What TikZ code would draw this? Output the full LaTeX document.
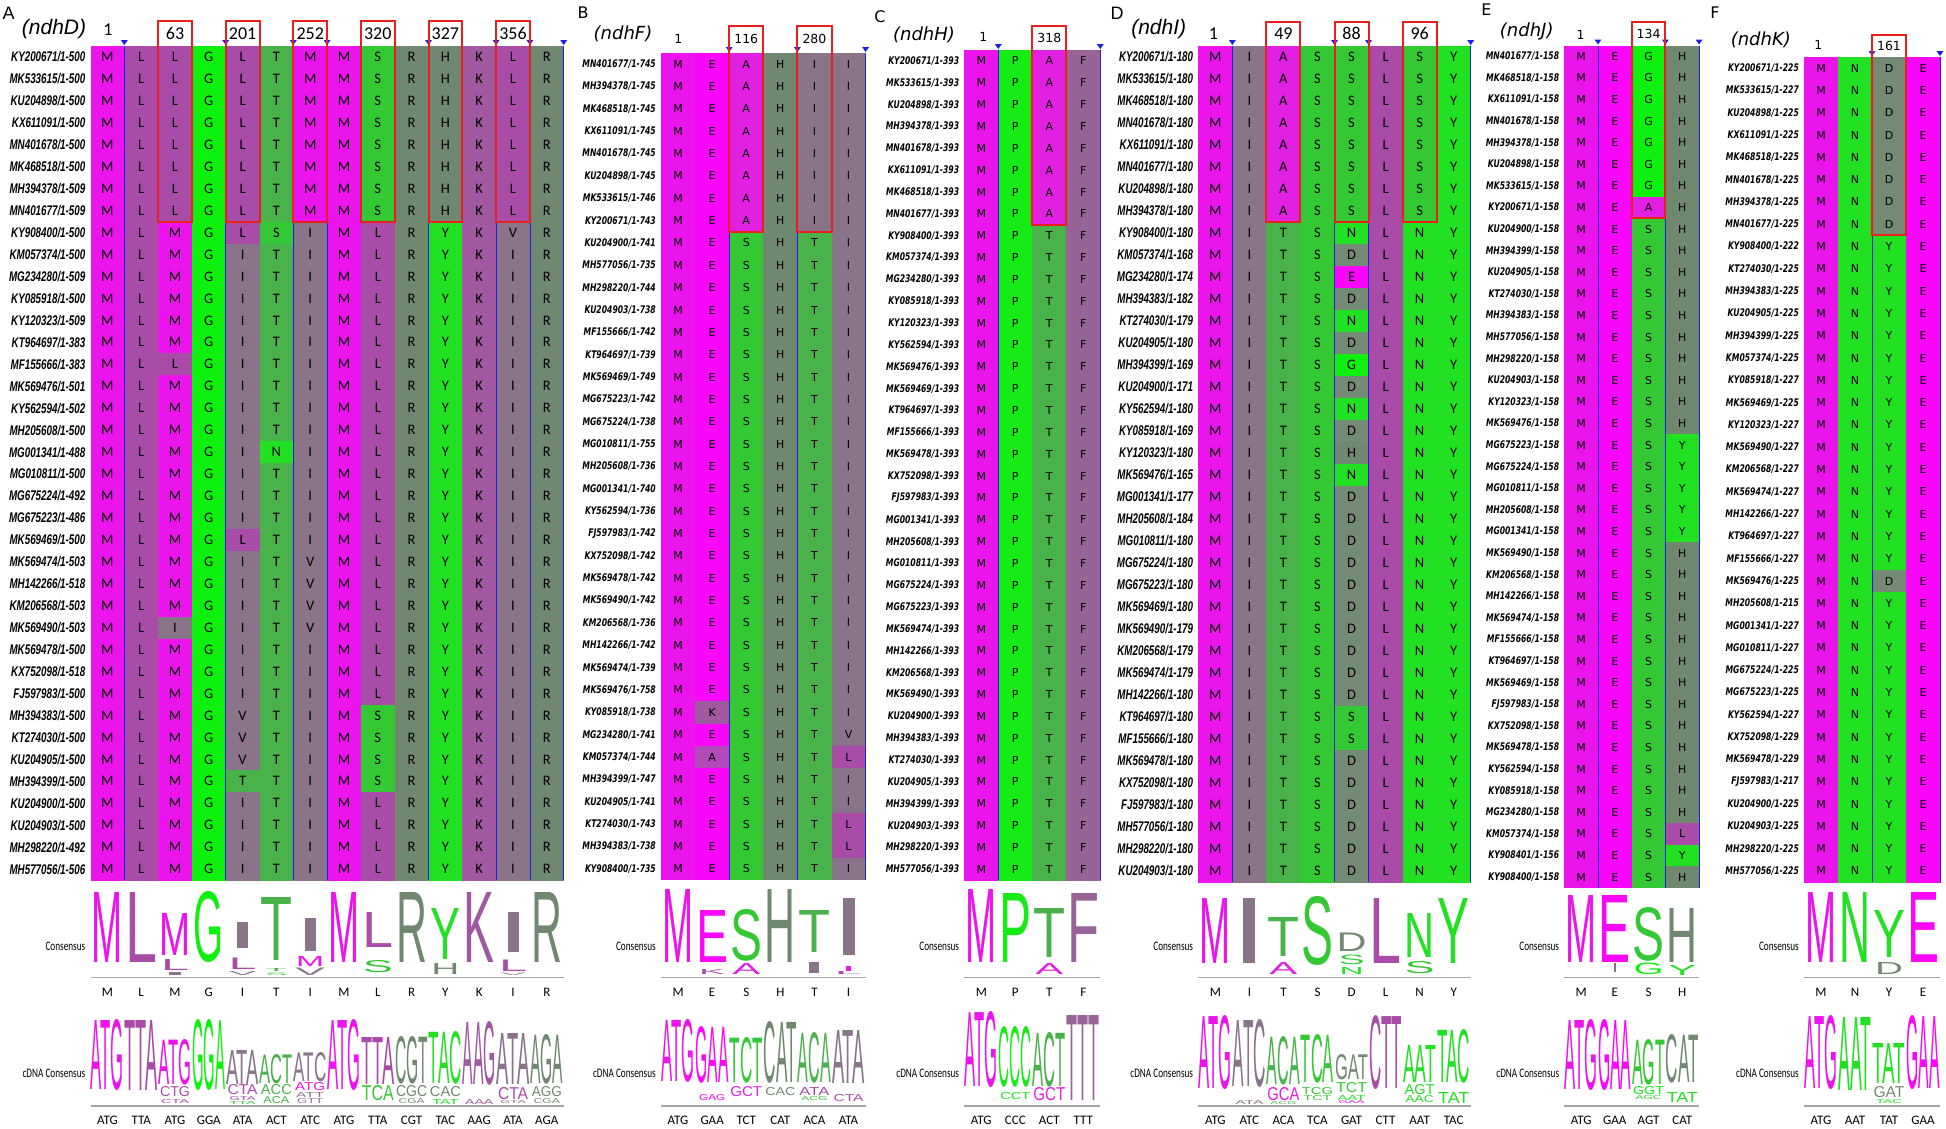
\documentclass[tikz,border=0pt]{standalone}
\usepackage{fontspec}
\setmainfont{Liberation Sans}
\newfontfamily\carl{Carlito}
\newfontfamily\dvs{DejaVu Sans}
\newfontfamily\lib{Liberation Sans}
\usepackage{graphicx}
\definecolor{cM}{RGB}{236,20,236}
\definecolor{cE}{RGB}{250,6,250}
\definecolor{cA}{RGB}{226,32,226}
\definecolor{ca}{RGB}{178,74,186}
\definecolor{cL}{RGB}{168,76,168}
\definecolor{cK}{RGB}{160,88,160}
\definecolor{cF}{RGB}{152,100,152}
\definecolor{cI}{RGB}{137,116,137}
\definecolor{cV}{RGB}{137,116,137}
\definecolor{cG}{RGB}{14,240,14}
\definecolor{cP}{RGB}{22,235,22}
\definecolor{cT}{RGB}{74,178,74}
\definecolor{cS}{RGB}{52,200,52}
\definecolor{cN}{RGB}{34,225,34}
\definecolor{cY}{RGB}{34,225,34}
\definecolor{cR}{RGB}{112,136,112}
\definecolor{cH}{RGB}{112,136,112}
\definecolor{cD}{RGB}{116,138,116}
\definecolor{boxred}{RGB}{235,30,30}
\definecolor{blueline}{RGB}{30,30,235}
\definecolor{axisgrey}{RGB}{165,165,165}
\newcount\cc
\newcount\lgn
\newcommand\setpanel[6]{\def\PN{#1}\def\PX{#2}\def\PW{#3}\def\PY{#4}\def\PH{#5}\pgfmathsetmacro\PB{#4+#6*#5}}
\newcommand\onecell[1]{%
  \global\advance\cc by 1\relax
  \pgfmathsetmacro\cx{\PX+(\the\cc-1)*\PW}%
  \fill[c#1] (\cx,\ry) rectangle ++(\PW+0.5,\PH+0.5);
  \node[res] (\PN-\rr-\the\cc) at (\cx+0.5*\PW,\ry+0.5*\PH) {\ifx#1a A\else #1\fi};}
\def\cellsloop#1{\ifx#1\relax\else\onecell{#1}\expandafter\cellsloop\fi}
\newcommand\drawpanel[1]{%
  \foreach \lab/\len/\seq [count=\rr] in {#1} {%
    \pgfmathsetmacro\ry{\PY+(\rr-1)*\PH}%
    \node[lab] (\PN-lab-\rr) at (\PX-5,\ry+0.5*\PH) {\scalebox{\LS}[1]{\lab/1-\len}};
    \global\cc=0\relax
    \expandafter\cellsloop\seq\relax
  }}
\newcommand\bsep[1]{%
  \pgfmathsetmacro\sx{\PX+(#1-1)*\PW}%
  \draw[blueline,line width=0.8] (\sx,\PY) -- (\sx,\PB);
  \fill[blueline] (\sx-3.5,\PY-6) -- (\sx+3.5,\PY-6) -- (\sx,\PY-1) -- cycle;}
\newcommand\rbox[3]{%
  \pgfmathsetmacro\bx{\PX+(#1-1)*\PW}%
  \pgfmathsetmacro\by{\PY+8*\PH}%
  \pgfmathsetmacro\bm{(#2+\PY)/2}%
  \node[hnum] (\PN-box#3) at (\bx+0.5*\PW,\bm) {#3};
  \draw[boxred,line width=2] (\bx,#2) rectangle (\bx+\PW,\by);}
\newcommand\LG[6]{%
  \global\advance\lgn by 1\relax
  \pgfmathsetmacro\lgx{\PX+(#1-0.5)*\PW}%
  \pgfmathsetmacro\lgh{#3-#2}%
  \node[logo,text=#5] (lg\the\lgn) at (\lgx,#3) {\resizebox{#4pt}{\lgh pt}{#6}};}
\newcommand\LGI[5]{%
  \pgfmathsetmacro\lgx{\PX+(#1-0.5)*\PW}%
  \fill[#5] (\lgx-#4/2,#2) rectangle (\lgx+#4/2,#3);}
\newcommand\axl[2]{%
  \foreach \tx [count=\k] in {#2} {\pgfmathsetmacro\lx{\PX+(\k-0.5)*\PW}\node[axlab] (\PN-ax#1-\k) at (\lx,#1) {\tx};}}
\newcommand\logoframe[1]{%
  \pgfmathsetmacro\ex{\PX+#1*\PW}%
  \draw[axisgrey,line width=1.4] (\PX,977.5) -- (\ex,977.5);
  \draw[axisgrey,line width=1.4] (\PX,1106) -- (\ex,1106);
  \node[conl] (\PN-cons) at (\PX-5,946) {\scalebox{0.71}[1]{Consensus}};
  \node[conl] (\PN-cdna) at (\PX-5,1073) {\scalebox{0.71}[1]{cDNA Consensus}};}
\tikzset{
  resA/.style={inner sep=0,font=\carl\fontsize{14.5}{16}\selectfont},
  resB/.style={inner sep=0,font=\dvs\fontsize{11}{13}\selectfont},
  labA/.style={inner sep=0,anchor=east,font=\lib\bfseries\itshape\fontsize{14}{16}\selectfont},
  labB/.style={inner sep=0,anchor=east,font=\dvs\bfseries\itshape\fontsize{10.5}{12}\selectfont},
  ptA/.style={inner sep=0,font=\lib\fontsize{18}{18}\selectfont},
  ptB/.style={inner sep=0,font=\dvs\fontsize{16}{16}\selectfont},
  gnA/.style={inner sep=0,font=\lib\itshape\fontsize{21}{21}\selectfont},
  gnB/.style={inner sep=0,font=\dvs\itshape\fontsize{18}{18}\selectfont},
  hnA/.style={inner sep=0,font=\carl\fontsize{18}{18}\selectfont},
  hnB/.style={inner sep=0,font=\dvs\fontsize{12.5}{12.5}\selectfont},
  logo/.style={inner sep=0,outer sep=0,anchor=south,font=\lib\fontsize{20}{20}\selectfont},
  axlab/.style={inner sep=0,font=\carl\fontsize{13}{13}\selectfont},
  conl/.style={inner sep=0,anchor=east,font=\carl\fontsize{13}{13}\selectfont}
}
\begin{document}
\begin{tikzpicture}[x=1pt,y=-1pt]
\useasboundingbox (0,0) rectangle (1946,1128);
\fill[white] (0,0) rectangle (1946,1128);

%%%%%%%%%%%%%%%% Panel A
\setpanel{A}{90.5}{33.8}{46}{21.95}{38}
\tikzset{res/.style={resA},lab/.style={labA},hnum/.style={hnA}}\def\LS{0.70}
\drawpanel{KY200671/500/MLLGLTMMSRHKLR,
MK533615/500/MLLGLTMMSRHKLR,
KU204898/500/MLLGLTMMSRHKLR,
KX611091/500/MLLGLTMMSRHKLR,
MN401678/500/MLLGLTMMSRHKLR,
MK468518/500/MLLGLTMMSRHKLR,
MH394378/509/MLLGLTMMSRHKLR,
MN401677/509/MLLGLTMMSRHKLR,
KY908400/500/MLMGLSIMLRYKVR,
KM057374/500/MLMGITIMLRYKIR,
MG234280/509/MLMGITIMLRYKIR,
KY085918/500/MLMGITIMLRYKIR,
KY120323/509/MLMGITIMLRYKIR,
KT964697/383/MLMGITIMLRYKIR,
MF155666/383/MLLGITIMLRYKIR,
MK569476/501/MLMGITIMLRYKIR,
KY562594/502/MLMGITIMLRYKIR,
MH205608/500/MLMGITIMLRYKIR,
MG001341/488/MLMGINIMLRYKIR,
MG010811/500/MLMGITIMLRYKIR,
MG675224/492/MLMGITIMLRYKIR,
MG675223/486/MLMGITIMLRYKIR,
MK569469/500/MLMGLTIMLRYKIR,
MK569474/503/MLMGITVMLRYKIR,
MH142266/518/MLMGITVMLRYKIR,
KM206568/503/MLMGITVMLRYKIR,
MK569490/503/MLIGITVMLRYKIR,
MK569478/500/MLMGITIMLRYKIR,
KX752098/518/MLMGITIMLRYKIR,
FJ597983/500/MLMGITIMLRYKIR,
MH394383/500/MLMGVTIMSRYKIR,
KT274030/500/MLMGVTIMSRYKIR,
KU204905/500/MLMGVTIMSRYKIR,
MH394399/500/MLMGTTIMSRYKIR,
KU204900/500/MLMGITIMLRYKIR,
KU204903/500/MLMGITIMLRYKIR,
MH298220/492/MLMGITIMLRYKIR,
MH577056/506/MLMGITIMLRYKIR}
\foreach \s in {2,5,7,8,11,13,14,15} {\bsep{\s}}
\rbox{3}{21}{63}\rbox{5}{21}{201}\rbox{7}{21}{252}\rbox{9}{21}{320}\rbox{11}{21}{327}\rbox{13}{21}{356}
\node[ptA] (A-t) at (8.7,13.4) {A};
\node[gnA] (A-g) at (54,29.3) {(ndhD)};
\node[hnA] (A-1) at (108,29.3) {1};
\logoframe{14}
\LG{1}{892}{962}{31}{cM}{M}
\LG{2}{892}{962}{32}{cL}{L}
\LG{3}{913}{955}{31}{cM}{M}
\LG{3}{959}{970}{28}{cL}{L}
\LGI{3}{972}{975}{12}{cI}
\LG{4}{892}{962}{30}{cG}{G}
\LGI{5}{922}{948}{11}{cI}
\LG{5}{958}{969.5}{28}{cL}{L}
\LG{5}{971.5}{975.5}{28}{cV}{V}
\LG{6}{897}{960}{32}{cT}{T}
\LG{6}{968.5}{971.5}{22}{cT}{T}
\LG{6}{973}{975.5}{22}{cS}{S}
\LGI{7}{918}{951}{11}{cI}
\LG{7}{956}{966}{28}{cM}{M}
\LG{7}{968}{975.5}{30}{cV}{V}
\LG{8}{892}{962}{31}{cM}{M}
\LG{9}{912}{947}{31}{cL}{L}
\LG{9}{961}{973}{30}{cS}{S}
\LG{10}{892}{962}{31}{cR}{R}
\LG{11}{908}{959}{30}{cY}{Y}
\LG{11}{963}{974}{28}{cH}{H}
\LG{12}{892}{962}{31}{cK}{K}
\LGI{13}{912}{952}{11}{cI}
\LG{13}{959.5}{971}{28}{cL}{L}
\LG{13}{973}{975.5}{26}{cV}{V}
\LG{14}{892}{962}{31}{cR}{R}
\LG{1}{1020}{1090}{33}{cM}{ATG}
\LG{2}{1020}{1090}{33}{cL}{TTA}
\LG{3}{1040}{1085}{33}{cM}{ATG}
\LG{3}{1087}{1097}{30}{cL}{CTG}
\LG{3}{1100}{1104}{28}{cL}{CTA}
\LG{4}{1020}{1090}{33}{cG}{GGA}
\LG{5}{1050}{1084}{33}{cI}{ATA}
\LG{5}{1085}{1095}{30}{cL}{CTA}
\LG{5}{1097}{1101}{26}{cL}{GTA}
\LG{5}{1101.5}{1104.5}{26}{cS}{TTA}
\LG{6}{1055}{1084}{33}{cT}{ACT}
\LG{6}{1085}{1095}{31}{cT}{ACC}
\LG{6}{1097}{1104}{26}{cT}{ACA}
\LG{7}{1053}{1082}{33}{cI}{ATC}
\LG{7}{1083}{1091}{30}{cM}{ATG}
\LG{7}{1092}{1097}{28}{cI}{ATT}
\LG{7}{1099}{1104}{26}{cI}{GTT}
\LG{8}{1020}{1090}{33}{cM}{ATG}
\LG{9}{1037}{1084}{33}{cL}{TTA}
\LG{9}{1086}{1101}{32}{cS}{TCA}
\LG{10}{1037}{1084}{33}{cR}{CGT}
\LG{10}{1086}{1097}{31}{cR}{CGC}
\LG{10}{1099}{1104}{26}{cR}{CGA}
\LG{11}{1032}{1084}{33}{cY}{TAC}
\LG{11}{1087}{1097}{31}{cH}{CAC}
\LG{11}{1099}{1104}{26}{cY}{TAT}
\LG{12}{1022}{1085}{33}{cK}{AAG}
\LG{12}{1099}{1104}{28}{cK}{AAA}
\LG{13}{1033}{1084}{33}{cI}{ATA}
\LG{13}{1088}{1100}{30}{cL}{CTA}
\LG{13}{1101}{1104}{26}{cV}{GTA}
\LG{14}{1035}{1084}{33}{cR}{AGA}
\LG{14}{1087}{1097}{30}{cR}{AGG}
\LG{14}{1099}{1104}{26}{cR}{CGA}
\axl{992}{M,L,M,G,I,T,I,M,L,R,Y,K,I,R}
\axl{1120}{ATG,TTA,ATG,GGA,ATA,ACT,ATC,ATG,TTA,CGT,TAC,AAG,ATA,AGA}

%%%%%%%%%%%%%%%% Panel B
\setpanel{B}{661}{34.1}{53}{22.35}{37}
\tikzset{res/.style={resB},lab/.style={labB},hnum/.style={hnB}}\def\LS{0.73}
\drawpanel{MN401677/745/MEAHII,
MH394378/745/MEAHII,
MK468518/745/MEAHII,
KX611091/745/MEAHII,
MN401678/745/MEAHII,
KU204898/745/MEAHII,
MK533615/746/MEAHII,
KY200671/743/MEAHII,
KU204900/741/MESHTI,
MH577056/735/MESHTI,
MH298220/744/MESHTI,
KU204903/738/MESHTI,
MF155666/742/MESHTI,
KT964697/739/MESHTI,
MK569469/749/MESHTI,
MG675223/742/MESHTI,
MG675224/738/MESHTI,
MG010811/755/MESHTI,
MH205608/736/MESHTI,
MG001341/740/MESHTI,
KY562594/736/MESHTI,
FJ597983/742/MESHTI,
KX752098/742/MESHTI,
MK569478/742/MESHTI,
MK569490/742/MESHTI,
KM206568/736/MESHTI,
MH142266/742/MESHTI,
MK569474/739/MESHTI,
MK569476/758/MESHTI,
KY085918/738/MKSHTI,
MG234280/741/MESHTV,
KM057374/744/MaSHTL,
MH394399/747/MESHTI,
KU204905/741/MESHTI,
KT274030/743/MESHTL,
MH394383/738/MESHTL,
KY908400/735/MESHTI}
\foreach \s in {3,5,7} {\bsep{\s}}
\rbox{3}{25.5}{116}\rbox{5}{25.5}{280}
\node[ptB] (B-t) at (583,12.8) {B};
\node[gnB] (B-g) at (623,34) {(ndhF)};
\node[hnB] (B-1) at (678.3,38.6) {1};
\logoframe{6}
\LG{1}{889}{962}{31}{cM}{M}
\LG{2}{910}{962}{32}{cE}{E}
\LG{2}{969}{974}{26}{cL}{K}
\LG{3}{910}{961}{32}{cS}{S}
\LG{3}{963}{974}{28}{cA}{A}
\LG{4}{889}{962}{31}{cH}{H}
\LG{5}{910}{952}{32}{cT}{T}
\LGI{5}{962}{973}{10}{cI}
\LGI{6}{898}{955}{12}{cI}
\LGI{6}{966}{971}{5}{cA}
\LG{6}{971}{974}{28}{cL}{L}
\LG{1}{1020}{1082}{33}{cM}{ATG}
\LG{2}{1027}{1083}{33}{cE}{GAA}
\LG{2}{1095}{1101}{26}{cE}{GAG}
\LG{3}{1038}{1083}{33}{cS}{TCT}
\LG{3}{1087}{1097}{32}{cA}{GCT}
\LG{4}{1022}{1083}{33}{cH}{CAT}
\LG{4}{1088}{1096}{30}{cH}{CAC}
\LG{5}{1033}{1083}{33}{cT}{ACA}
\LG{5}{1087}{1095}{30}{cL}{ATA}
\LG{5}{1097}{1101}{26}{cS}{ACG}
\LG{6}{1030}{1083}{33}{cI}{ATA}
\LG{6}{1095}{1102}{30}{cL}{CTA}
\axl{992}{M,E,S,H,T,I}
\axl{1120}{ATG,GAA,TCT,CAT,ACA,ATA}

%%%%%%%%%%%%%%%% Panel C
\setpanel{C}{964.3}{34}{50}{21.85}{38}
\tikzset{res/.style={resB},lab/.style={labB},hnum/.style={hnB}}\def\LS{0.73}
\drawpanel{KY200671/393/MPAF,
MK533615/393/MPAF,
KU204898/393/MPAF,
MH394378/393/MPAF,
MN401678/393/MPAF,
KX611091/393/MPAF,
MK468518/393/MPAF,
MN401677/393/MPAF,
KY908400/393/MPTF,
KM057374/393/MPTF,
MG234280/393/MPTF,
KY085918/393/MPTF,
KY120323/393/MPTF,
KY562594/393/MPTF,
MK569476/393/MPTF,
MK569469/393/MPTF,
KT964697/393/MPTF,
MF155666/393/MPTF,
MK569478/393/MPTF,
KX752098/393/MPTF,
FJ597983/393/MPTF,
MG001341/393/MPTF,
MH205608/393/MPTF,
MG010811/393/MPTF,
MG675224/393/MPTF,
MG675223/393/MPTF,
MK569474/393/MPTF,
MH142266/393/MPTF,
KM206568/393/MPTF,
MK569490/393/MPTF,
KU204900/393/MPTF,
MH394383/393/MPTF,
KT274030/393/MPTF,
KU204905/393/MPTF,
MH394399/393/MPTF,
KU204903/393/MPTF,
MH298220/393/MPTF,
MH577056/393/MPTF}
\foreach \s in {2,5} {\bsep{\s}}
\rbox{3}{25.5}{318}
\node[ptB] (C-t) at (880,17) {C};
\node[gnB] (C-g) at (924,35.2) {(ndhH)};
\node[hnB] (C-1) at (983.3,36.9) {1};
\logoframe{4}
\LG{1}{889}{962}{31}{cM}{M}
\LG{2}{893}{962}{32}{cP}{P}
\LG{3}{908}{957}{32}{cT}{T}
\LG{3}{963}{974}{28}{cA}{A}
\LG{4}{893}{962}{32}{cF}{F}
\LG{1}{1013}{1088}{33}{cM}{ATG}
\LG{2}{1027}{1087}{33}{cP}{CCC}
\LG{2}{1093}{1100}{30}{cP}{CCT}
\LG{3}{1033}{1087}{33}{cT}{ACT}
\LG{3}{1088}{1101}{32}{cA}{GCT}
\LG{4}{1015}{1100}{33}{cF}{TTT}
\axl{992}{M,P,T,F}
\axl{1120}{ATG,CCC,ACT,TTT}

%%%%%%%%%%%%%%%% Panel D
\setpanel{D}{1198.3}{34.05}{46}{22}{38}
\tikzset{res/.style={resA},lab/.style={labA},hnum/.style={hnA}}\def\LS{0.70}
\drawpanel{KY200671/180/MIASSLSY,
MK533615/180/MIASSLSY,
MK468518/180/MIASSLSY,
MN401678/180/MIASSLSY,
KX611091/180/MIASSLSY,
MN401677/180/MIASSLSY,
KU204898/180/MIASSLSY,
MH394378/180/MIASSLSY,
KY908400/180/MITSNLNY,
KM057374/168/MITSDLNY,
MG234280/174/MITSELNY,
MH394383/182/MITSDLNY,
KT274030/179/MITSNLNY,
KU204905/180/MITSDLNY,
MH394399/169/MITSGLNY,
KU204900/171/MITSDLNY,
KY562594/180/MITSNLNY,
KY085918/169/MITSDLNY,
KY120323/180/MITSHLNY,
MK569476/165/MITSNLNY,
MG001341/177/MITSDLNY,
MH205608/184/MITSDLNY,
MG010811/180/MITSDLNY,
MG675224/180/MITSDLNY,
MG675223/180/MITSDLNY,
MK569469/180/MITSDLNY,
MK569490/179/MITSDLNY,
KM206568/179/MITSDLNY,
MK569474/179/MITSDLNY,
MH142266/180/MITSDLNY,
KT964697/180/MITSSLNY,
MF155666/180/MITSSLNY,
MK569478/180/MITSDLNY,
KX752098/180/MITSDLNY,
FJ597983/180/MITSDLNY,
MH577056/180/MITSDLNY,
MH298220/180/MITSDLNY,
KU204903/180/MITSDLNY}
\foreach \s in {2,5,6,9} {\bsep{\s}}
\rbox{3}{21.7}{49}\rbox{5}{21.7}{88}\rbox{7}{21.7}{96}
\node[ptA] (D-t) at (1117,13.4) {D};
\node[gnA] (D-g) at (1158.7,29.3) {(ndhI)};
\node[hnA] (D-1) at (1213.3,33.3) {1};
\logoframe{8}
\LG{1}{898}{963}{31}{cM}{M}
\LGI{2}{898}{963}{12}{cI}
\LG{3}{917}{956}{32}{cT}{T}
\LG{3}{962}{974}{28}{cA}{A}
\LG{4}{897}{965}{32}{cS}{S}
\LG{5}{933}{951.5}{30}{cD}{D}
\LG{5}{955}{964.5}{26}{cS}{S}
\LG{5}{967}{974}{24}{cN}{N}
\LG{6}{898}{963}{32}{cL}{L}
\LG{7}{913}{957}{30}{cN}{N}
\LG{7}{962}{974}{30}{cS}{S}
\LG{8}{898}{963}{32}{cY}{Y}
\LG{1}{1017}{1090}{33}{cM}{ATG}
\LG{2}{1020}{1087}{33}{cI}{ATC}
\LG{2}{1100}{1104}{28}{cI}{ATA}
\LG{3}{1037}{1085}{33}{cT}{ACA}
\LG{3}{1088}{1101}{32}{cA}{GCA}
\LG{3}{1101.5}{1104.5}{26}{cT}{ACG}
\LG{4}{1035}{1083}{33}{cS}{TCA}
\LG{4}{1088}{1095}{31}{cS}{TCG}
\LG{4}{1096}{1101}{28}{cS}{TCT}
\LG{5}{1055}{1080}{33}{cD}{GAT}
\LG{5}{1083}{1093}{31}{cS}{TCT}
\LG{5}{1095}{1100}{28}{cN}{AAT}
\LG{5}{1100.5}{1103.5}{26}{cE}{GAA}
\LG{6}{1017}{1090}{33}{cL}{CTT}
\LG{7}{1045}{1082}{33}{cN}{AAT}
\LG{7}{1085}{1095}{30}{cN}{AGT}
\LG{7}{1096}{1103}{28}{cN}{AAC}
\LG{8}{1030}{1083}{33}{cY}{TAC}
\LG{8}{1092}{1103}{31}{cY}{TAT}
\axl{992}{M,I,T,S,D,L,N,Y}
\axl{1120}{ATG,ATC,ACA,TCA,GAT,CTT,AAT,TAC}

%%%%%%%%%%%%%%%% Panel E
\setpanel{E}{1564.3}{33.7}{45.5}{21.6}{39}
\tikzset{res/.style={resB},lab/.style={labB},hnum/.style={hnB}}\def\LS{0.73}
\drawpanel{MN401677/158/MEGH,
MK468518/158/MEGH,
KX611091/158/MEGH,
MN401678/158/MEGH,
MH394378/158/MEGH,
KU204898/158/MEGH,
MK533615/158/MEGH,
KY200671/158/MEAH,
KU204900/158/MESH,
MH394399/158/MESH,
KU204905/158/MESH,
KT274030/158/MESH,
MH394383/158/MESH,
MH577056/158/MESH,
MH298220/158/MESH,
KU204903/158/MESH,
KY120323/158/MESH,
MK569476/158/MESH,
MG675223/158/MESY,
MG675224/158/MESY,
MG010811/158/MESY,
MH205608/158/MESY,
MG001341/158/MESY,
MK569490/158/MESH,
KM206568/158/MESH,
MH142266/158/MESH,
MK569474/158/MESH,
MF155666/158/MESH,
KT964697/158/MESH,
MK569469/158/MESH,
FJ597983/158/MESH,
KX752098/158/MESH,
MK569478/158/MESH,
KY562594/158/MESH,
KY085918/158/MESH,
MG234280/158/MESH,
KM057374/158/MESL,
KY908401/156/MESY,
KY908400/158/MESH}
\foreach \s in {2,4,5} {\bsep{\s}}
\rbox{3}{21.6}{134}
\node[ptB] (E-t) at (1486.3,10) {E};
\node[gnB] (E-g) at (1526.7,31.2) {(ndhJ)};
\node[hnB] (E-1) at (1580.7,35.2) {1};
\logoframe{4}
\LG{1}{895}{962}{31}{cM}{M}
\LGI{2}{963}{972}{2}{cI}
\LG{2}{895}{962}{32}{cE}{E}
\LG{3}{908}{961}{32}{cS}{S}
\LG{3}{963.5}{975}{30}{cG}{G}
\LG{4}{908}{962}{31}{cH}{H}
\LG{4}{965}{975}{28}{cY}{Y}
\LG{1}{1020}{1090}{33}{cM}{ATG}
\LG{2}{1020}{1090}{33}{cE}{GAA}
\LG{3}{1040}{1085}{33}{cS}{AGT}
\LG{3}{1087}{1095}{31}{cG}{GGT}
\LG{3}{1096}{1100}{26}{cS}{AGC}
\LG{4}{1035}{1083}{33}{cH}{CAT}
\LG{4}{1092}{1102}{31}{cY}{TAT}
\axl{992}{M,E,S,H}
\axl{1120}{ATG,GAA,AGT,CAT}

%%%%%%%%%%%%%%%% Panel F
\setpanel{F}{1804}{34}{57}{22.3}{37}
\tikzset{res/.style={resB},lab/.style={labB},hnum/.style={hnB}}\def\LS{0.73}
\drawpanel{KY200671/225/MNDE,
MK533615/227/MNDE,
KU204898/225/MNDE,
KX611091/225/MNDE,
MK468518/225/MNDE,
MN401678/225/MNDE,
MH394378/225/MNDE,
MN401677/225/MNDE,
KY908400/222/MNYE,
KT274030/225/MNYE,
MH394383/225/MNYE,
KU204905/225/MNYE,
MH394399/225/MNYE,
KM057374/225/MNYE,
KY085918/227/MNYE,
MK569469/225/MNYE,
KY120323/227/MNYE,
MK569490/227/MNYE,
KM206568/227/MNYE,
MK569474/227/MNYE,
MH142266/227/MNYE,
KT964697/227/MNYE,
MF155666/227/MNYE,
MK569476/225/MNDE,
MH205608/215/MNYE,
MG001341/227/MNYE,
MG010811/227/MNYE,
MG675224/225/MNYE,
MG675223/225/MNYE,
KY562594/227/MNYE,
KX752098/229/MNYE,
MK569478/229/MNYE,
FJ597983/217/MNYE,
KU204900/225/MNYE,
KU204903/225/MNYE,
MH298220/225/MNYE,
MH577056/225/MNYE}
\foreach \s in {3,5} {\bsep{\s}}
\rbox{3}{35.2}{161}
\node[ptB] (F-t) at (1715,12.8) {F};
\node[gnB] (F-g) at (1760.8,39.7) {(ndhK)};
\node[hnB] (F-1) at (1818.3,45.4) {1};
\logoframe{4}
\LG{1}{892}{962}{31}{cM}{M}
\LG{2}{892}{962}{31}{cN}{N}
\LG{3}{910}{957}{32}{cY}{Y}
\LG{3}{962}{974}{28}{cD}{D}
\LG{4}{892}{962}{32}{cE}{E}
\LG{1}{1017}{1090}{33}{cM}{ATG}
\LG{2}{1017}{1090}{33}{cN}{AAT}
\LG{3}{1043}{1083}{33}{cY}{TAT}
\LG{3}{1087}{1098}{31}{cD}{GAT}
\LG{3}{1100}{1104}{26}{cY}{TAC}
\LG{4}{1017}{1090}{33}{cE}{GAA}
\axl{992}{M,N,Y,E}
\axl{1120}{ATG,AAT,TAT,GAA}
\end{tikzpicture}
\end{document}
